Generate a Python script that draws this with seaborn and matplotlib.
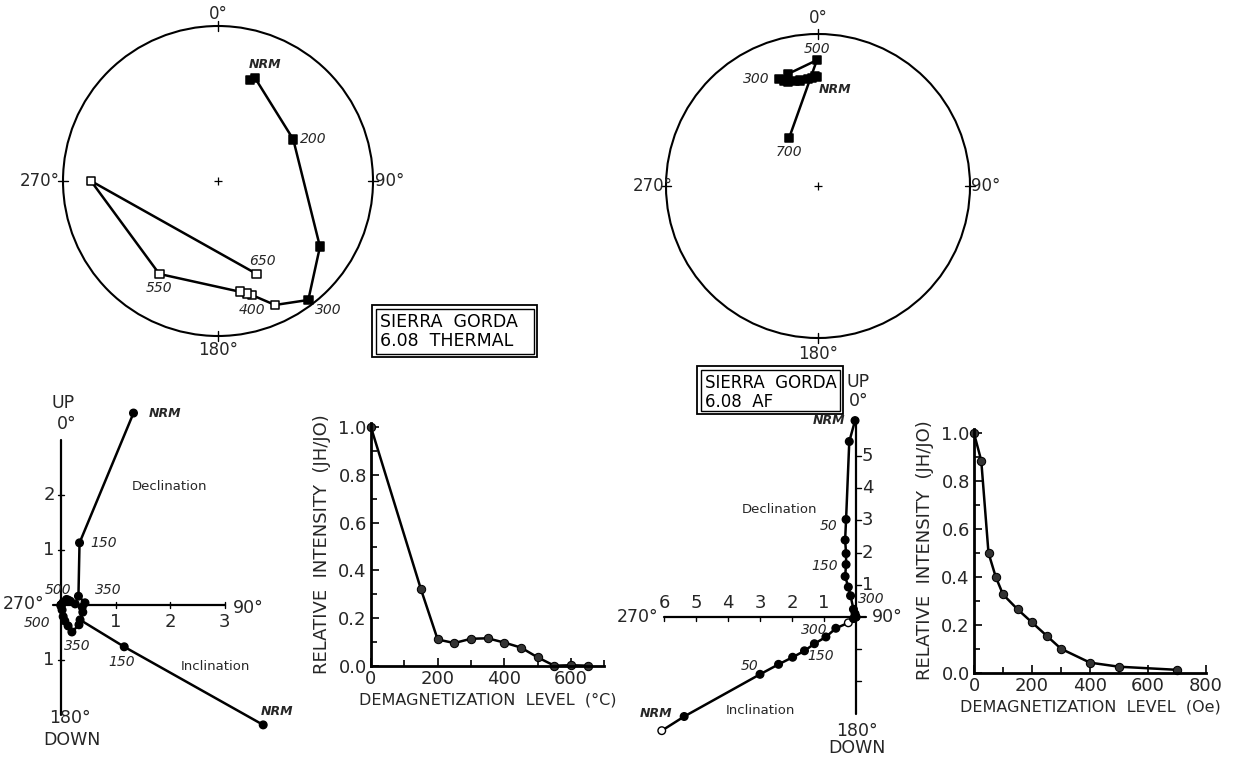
import numpy as np
import pandas as pd
import matplotlib
matplotlib.use("Agg")
import matplotlib.pyplot as plt
import seaborn as sns
from matplotlib.patches import Circle, Rectangle
from matplotlib.ticker import MultipleLocator, FormatStrFormatter

sns.set_theme(style="white")
plt.rcParams['font.family'] = ['DejaVu Sans']

W, H = 1236, 758

# ---------------- data ----------------
# Thermal demagnetization (stereonet: declination / inclination)
th_steps = ["NRM", "150", "200", "250", "300", "350", "400", "450", "500", "550", "600", "650"]
th_dec = [17.6, 19.8, 61.0, 122.8, 142.8, 155.3, 163.4, 165.5, 168.8, 212.3, 270.0, 157.4]
th_inc = [32.2, 30.1, 43.8, 22.8, 4.1, -13.0, -24.2, -26.1, -28.0, -29.8, -19.2, -35.3]

# AF demagnetization (stereonet)
af_steps = ["NRM", "25", "50", "75", "100", "150", "200", "250", "300", "400", "500", "700"]
af_dec = [359.5, 358.4, 356.8, 354.7, 350.3, 347.6, 343.9, 342.1, 340.0, 345.0, 359.5, 328.9]
af_inc = [29.0, 28.4, 29.5, 30.0, 30.4, 30.0, 29.5, 28.2, 26.0, 24.7, 18.3, 59.8]

# Relative intensity curves
th_level = [0, 150, 200, 250, 300, 350, 400, 450, 500, 550, 600, 650]
th_int = [1.0, 0.32, 0.11, 0.095, 0.113, 0.115, 0.097, 0.076, 0.035, 0.0, 0.002, 0.0]
af_level = [0, 25, 50, 75, 100, 150, 200, 250, 300, 400, 500, 700]
af_int = [1.0, 0.886, 0.50, 0.40, 0.327, 0.265, 0.21, 0.155, 0.10, 0.042, 0.025, 0.012]

# Orthogonal (Zijderveld) projections, thermal: declination (E, N), inclination (H, up)
thz_dec_e = [1.33, 0.34, 0.32, 0.44, 0.39, 0.26, 0.17, 0.13, 0.10, 0.04, 0.0, 0.01]
thz_dec_n = [3.49, 1.13, 0.16, 0.04, -0.04, 0.02, 0.07, 0.09, 0.10, 0.05, 0.0, 0.01]
thz_inc_h = [3.71, 1.16, 0.35, 0.40, 0.33, 0.20, 0.13, 0.07, 0.04, 0.02, 0.0, 0.0]
thz_inc_v = [-2.18, -0.76, -0.27, -0.13, -0.36, -0.49, -0.38, -0.29, -0.21, -0.09, -0.02, 0.0]

# AF orthogonal projections: declination (E, N) and inclination (H toward W, down)
afz_dec_e = [-0.03, -0.21, -0.31, -0.34, -0.31, -0.31, -0.34, -0.24, -0.17, -0.08, -0.03, 0.0]
afz_dec_n = [6.10, 5.45, 3.03, 2.39, 1.97, 1.63, 1.26, 0.93, 0.66, 0.24, 0.10, 0.0]
afz_inc_h = [6.07, 5.37, 3.0, 2.42, 1.98, 1.61, 1.30, 0.94, 0.63, 0.24, 0.08, 0.0]
afz_inc_d = [3.53, 3.09, 1.78, 1.47, 1.25, 1.05, 0.83, 0.62, 0.35, 0.18, 0.05, 0.0]
afz_inc_open = [True, False, False, False, False, False, False, False, False, True, False, False]

# ---------------- figure ----------------
fig = plt.figure(figsize=(W / 100, H / 100), dpi=100)
fig.patch.set_facecolor("white")


def px_axes(x0, y0, x1, y1):
    """Axes from image pixel box (top-left origin)."""
    return fig.add_axes([x0 / W, 1 - y1 / H, (x1 - x0) / W, (y1 - y0) / H])


LW = 1.8
K = "black"

# overlay for boxes
ov = px_axes(0, 0, W, H)
ov.set_xlim(0, W)
ov.set_ylim(H, 0)
ov.axis("off")


def double_box(x0, y0, x1, y1, lines, fs):
    ov.add_patch(Rectangle((x0, y0), x1 - x0, y1 - y0, fill=False, lw=1.3, ec=K))
    ov.add_patch(Rectangle((x0 + 3.5, y0 + 3.5), x1 - x0 - 7, y1 - y0 - 7, fill=False, lw=1.0, ec=K))
    for i, t in enumerate(lines):
        ov.text(x0 + 8, y0 + 17 + i * 19, t, fontsize=fs, ha="left", va="center", color=K)


double_box(372, 305, 537, 357, ["SIERRA  GORDA", "6.08  THERMAL"], 12.5)
double_box(697, 366, 843, 414, ["SIERRA  GORDA", "6.08  AF"], 12)


# ---------------- stereonets ----------------
def stereonet(cx, cy, R, dec, inc, steps, labels, cards):
    L = 1.25
    ax = px_axes(cx - L * R, cy - L * R, cx + L * R, cy + L * R)
    ax.set_xlim(-L, L)
    ax.set_ylim(-L, L)
    ax.set_aspect("equal")
    ax.axis("off")
    ax.patch.set_alpha(0)
    ax.add_patch(Circle((0, 0), 1, fill=False, lw=1.5, ec=K))
    ax.plot([0], [0], marker="+", ms=6, mew=0.9, color=K)
    for a in [0, 90, 180, 270]:
        s, c = np.sin(np.radians(a)), np.cos(np.radians(a))
        ax.plot([0.97 * s, 1.03 * s], [0.97 * c, 1.03 * c], color=K, lw=1.0)
    for (tx, ty, t) in cards:
        ax.text(tx, ty, t, fontsize=12, ha="center", va="center")
    d = np.radians(np.array(dec))
    i = np.array(inc)
    r = np.sqrt(2) * np.sin(np.radians(90 - np.abs(i)) / 2)
    df = pd.DataFrame({"x": r * np.sin(d), "y": r * np.cos(d), "lower": i >= 0, "step": steps})
    sns.lineplot(data=df, x="x", y="y", sort=False, estimator=None, color=K, lw=LW, ax=ax)
    sns.scatterplot(data=df, x="x", y="y", hue="lower", palette={True: K, False: "white"},
                    marker="s", s=38, edgecolor=K, linewidth=1.1, legend=False, ax=ax, zorder=3)
    for (step, ox, oy, ha, bold) in labels:
        row = df[df.step == step].iloc[0]
        ax.annotate(step, (row.x, row.y), xytext=(ox, oy), textcoords="offset points",
                    fontsize=9 if bold else 10, style="italic",
                    fontweight="bold" if bold else "normal", ha=ha, va="center")
    ax.set_xlabel("")
    ax.set_ylabel("")
    return ax


stereonet(218, 181, 155, th_dec, th_inc, th_steps,
          [("NRM", 11, 11, "center", True), ("200", 5, 0, "left", False),
           ("300", 5, -7, "left", False), ("400", 0, -11, "center", False),
           ("550", 0, -10, "center", False), ("650", 4, 9, "center", False)],
          [(0, 1.077, "0°"), (1.11, 0, "90°"), (0, -1.09, "180°"), (-1.15, 0, "270°")])

stereonet(818, 186, 152, af_dec, af_inc, af_steps,
          [("500", 0, 8, "center", False), ("300", -7, 0, "right", False),
           ("NRM", 1, -9, "left", True), ("700", 0, -10, "center", False)],
          [(0, 1.105, "0°"), (1.10, 0, "90°"), (0, -1.105, "180°"), (-1.09, 0, "270°")])


# ---------------- Zijderveld diagrams ----------------
def zij_axes(x0, y0, x1, y1, ox, oy, ux, uy):
    ax = px_axes(x0, y0, x1, y1)
    ax.set_xlim((x0 - ox) / ux, (x1 - ox) / ux)
    ax.set_ylim((oy - y1) / uy, (oy - y0) / uy)
    ax.axis("off")
    ax.patch.set_alpha(0)
    return ax


def zij_series(ax, xs, ys, open_flags=None):
    n = len(xs)
    if open_flags is None:
        open_flags = [False] * n
    df = pd.DataFrame({"x": xs, "y": ys, "open": open_flags, "k": range(n)})
    sns.lineplot(data=df, x="x", y="y", sort=False, estimator=None, color=K, lw=LW, ax=ax)
    sns.scatterplot(data=df, x="x", y="y", hue="open", palette={False: K, True: "white"},
                    marker="o", s=30, edgecolor=K, linewidth=1.0, legend=False, ax=ax, zorder=3)
    ax.set_xlabel("")
    ax.set_ylabel("")
    return df


def lab(ax, xs, ys, idx, text, ox, oy, ha="center", bold=False):
    ax.annotate(text, (xs[idx], ys[idx]), xytext=(ox, oy), textcoords="offset points",
                fontsize=9 if bold else 10, style="italic", fontweight="bold" if bold else "normal",
                ha=ha, va="center")


# --- thermal Zijderveld ---
zl = zij_axes(0, 385, 305, 758, 61, 605, 54.5, 55)
zl.plot([0, 0], [-2.0, 3.0], color=K, lw=1.6)
zl.plot([-0.15, 3.0], [0, 0], color=K, lw=1.6)
for v in [1, 2, 3]:
    zl.plot([v, v], [-0.05, 0.05], color=K, lw=1.0)
    zl.text(v, -0.31, str(v), fontsize=13, ha="center", va="center")
for v in [2, 1, -1]:
    zl.plot([-0.05, 0.05], [v, v], color=K, lw=1.0)
    zl.text(-0.22, v, str(abs(v)), fontsize=13, ha="center", va="center")
zl.text(0.04, 3.67, "UP", fontsize=12.5, ha="center", va="center")
zl.text(0.11, 3.29, "0°", fontsize=12.5, ha="center", va="center")
zl.text(-0.68, 0.02, "270°", fontsize=12.5, ha="center", va="center")
zl.text(3.43, -0.05, "90°", fontsize=12.5, ha="center", va="center")
zl.text(0.17, -2.05, "180°", fontsize=12.5, ha="center", va="center")
zl.text(0.2, -2.45, "DOWN", fontsize=12.5, ha="center", va="center")
zl.text(1.99, 2.16, "Declination", fontsize=9.5, ha="center", va="center")
zl.text(2.83, -1.11, "Inclination", fontsize=9.5, ha="center", va="center")
zij_series(zl, thz_dec_e, thz_dec_n)
zij_series(zl, thz_inc_h, thz_inc_v)
lab(zl, thz_dec_e, thz_dec_n, 0, "NRM", 11, 0, "left", True)
lab(zl, thz_dec_e, thz_dec_n, 1, "150", 8, 0, "left")
lab(zl, thz_dec_e, thz_dec_n, 8, "500", -6, 7, "center")
lab(zl, thz_dec_e, thz_dec_n, 5, "350", 24, 10, "center")
lab(zl, thz_inc_h, thz_inc_v, 8, "500", -9, -5, "right")
lab(zl, thz_inc_h, thz_inc_v, 5, "350", 4, -10, "center")
lab(zl, thz_inc_h, thz_inc_v, 1, "150", -2, -11, "center")
lab(zl, thz_inc_h, thz_inc_v, 0, "NRM", 10, 10, "center", True)

# --- AF Zijderveld ---
zr = zij_axes(600, 370, 905, 758, 856, 617, 32, 32.2)
zr.plot([0, 0], [-3.0, 6.15], color=K, lw=1.6)
zr.plot([-6.0, 0.3], [0, 0], color=K, lw=1.6)
for v in range(1, 7):
    zr.plot([-v, -v], [-0.12, 0.0], color=K, lw=1.0)
    zr.text(-v, 0.44, str(v), fontsize=13, ha="center", va="center")
for v in range(1, 6):
    zr.plot([0, 0.15], [v, v], color=K, lw=1.0)
    zr.text(0.36, v, str(v), fontsize=13, ha="center", va="center")
for v in [-1, -2]:
    zr.plot([0, 0.15], [v, v], color=K, lw=1.0)
zr.text(0.08, 7.31, "UP", fontsize=12.5, ha="center", va="center")
zr.text(0.08, 6.72, "0°", fontsize=12.5, ha="center", va="center")
zr.text(-6.84, 0.0, "270°", fontsize=12.5, ha="center", va="center")
zr.text(0.97, 0.0, "90°", fontsize=12.5, ha="center", va="center")
zr.text(0.03, -3.53, "180°", fontsize=12.5, ha="center", va="center")
zr.text(0.03, -4.06, "DOWN", fontsize=12.5, ha="center", va="center")
zr.text(-2.38, 3.34, "Declination", fontsize=9.5, ha="center", va="center")
zr.text(-3.0, -2.9, "Inclination", fontsize=9.5, ha="center", va="center")
afz_inc_x = [-h for h in afz_inc_h]
afz_inc_y = [-d for d in afz_inc_d]
zij_series(zr, afz_dec_e, afz_dec_n)
zij_series(zr, afz_inc_x, afz_inc_y, afz_inc_open)
lab(zr, afz_dec_e, afz_dec_n, 0, "NRM", -7, 0, "right", True)
lab(zr, afz_dec_e, afz_dec_n, 2, "50", -6, -5, "right")
lab(zr, afz_dec_e, afz_dec_n, 5, "150", -6, -1, "right")
lab(zr, afz_dec_e, afz_dec_n, 8, "300", 5, -2, "left")
lab(zr, afz_inc_x, afz_inc_y, 8, "300", -6, -1, "right")
lab(zr, afz_inc_x, afz_inc_y, 5, "150", 2, -4, "left")
lab(zr, afz_inc_x, afz_inc_y, 2, "50", -1, 6, "right")
lab(zr, afz_inc_x, afz_inc_y, 0, "NRM", -4, 12, "center", True)


# ---------------- intensity curves ----------------
def intensity_axes(left, bottom, pxx, pxy, xmax, xlab, level, inten, xmaj):
    ymax = 1.02
    ax = px_axes(left, bottom - pxy * ymax, left + pxx * xmax, bottom)
    df = pd.DataFrame({"level": level, "J": inten})
    sns.lineplot(data=df, x="level", y="J", sort=False, estimator=None, color=K, lw=LW,
                 marker="o", markersize=6, markeredgecolor=K, markerfacecolor="#333333",
                 ax=ax, clip_on=False)
    ax.set_xlim(0, xmax)
    ax.set_ylim(0, ymax)
    ax.xaxis.set_major_locator(MultipleLocator(xmaj))
    ax.xaxis.set_minor_locator(MultipleLocator(100))
    ax.yaxis.set_major_locator(MultipleLocator(0.2))
    ax.yaxis.set_minor_locator(MultipleLocator(0.1))
    ax.yaxis.set_major_formatter(FormatStrFormatter("%.1f"))
    ax.set_xticks([t for t in range(0, xmax + 1, xmaj)])
    ax.tick_params(which="both", direction="in", width=1.2, color=K, labelsize=13,
                   bottom=True, left=True, pad=3)
    ax.tick_params(which="major", length=6)
    ax.tick_params(which="minor", length=4)
    for s in ["top", "right"]:
        ax.spines[s].set_visible(False)
    for s in ["left", "bottom"]:
        ax.spines[s].set_linewidth(2)
        ax.spines[s].set_color(K)
    ax.set_xlabel(xlab, fontsize=11.5, labelpad=3)
    ax.set_ylabel("RELATIVE  INTENSITY  (JH/JO)", fontsize=13, labelpad=5)
    ax.patch.set_alpha(0)
    return ax


intensity_axes(371, 665.7, 233.3 / 700, 238.4, 700, "DEMAGNETIZATION  LEVEL  (°C)",
               th_level, th_int, 200)
intensity_axes(974, 672.7, 232 / 800, 239.4, 800, "DEMAGNETIZATION  LEVEL  (Oe)",
               af_level, af_int, 200)

fig.savefig("out.png", dpi=100, facecolor="white")
